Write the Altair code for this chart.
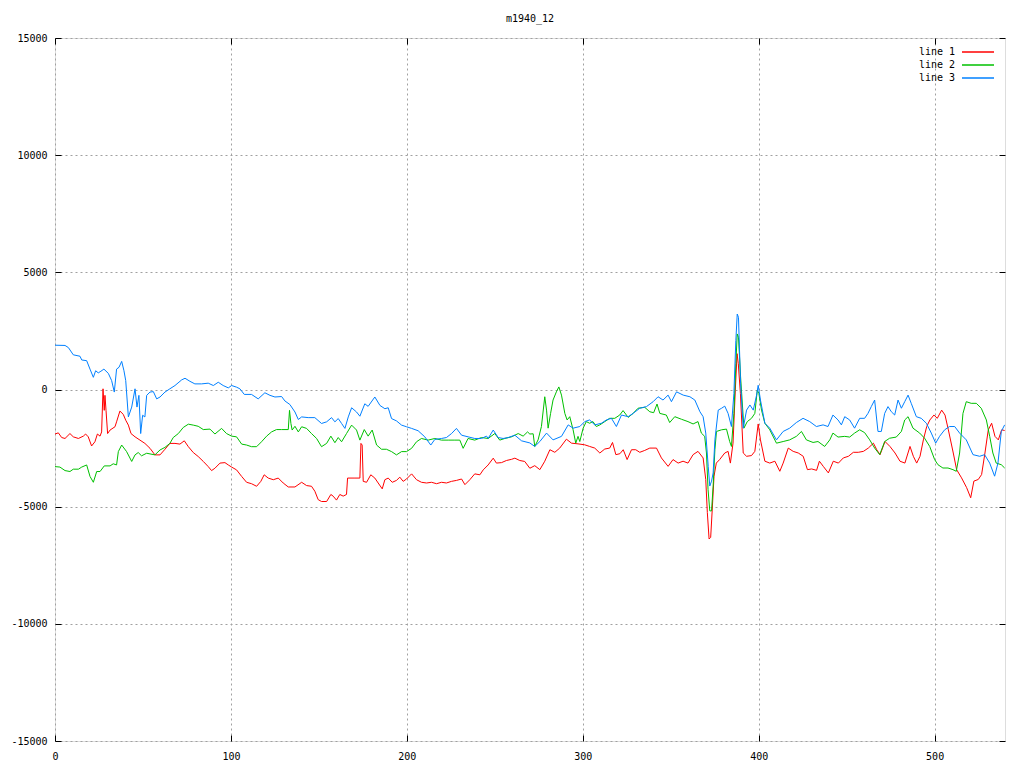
import altair as alt
import pandas as pd

TITLE = "m1940_12"
SERIES = ["line 1", "line 2", "line 3"]
COLORS = ["#ff0000", "#00c000", "#0080ff"]
X_TICKS = [0, 100, 200, 300, 400, 500]
Y_TICKS = [-15000, -10000, -5000, 0, 5000, 10000, 15000]

line1 = [(0,-1900),(1.9,-1850),(3.8,-2050),(5.7,-2090),(8.5,-1880),(10.4,-2020),(13.3,-2090),(16.1,-1990),(17.4,-1900),(18.9,-2020),
(20.8,-2410),(22.7,-2230),(24.1,-1900),(25.6,-1990),(26.5,-1810),(27.3,30),(28,-890),(28.4,-250),(29,-890),(29.9,-1880),
(31.3,-1730),(34.1,-1590),(35,-1380),(36.9,-920),(38.8,-1060),(40.2,-1310),(41.7,-1520),(43.2,-1880),(45.5,-2020),(48.3,-2160),
(51.1,-2300),(54,-2510),(56.8,-2790),(59.7,-2790),(62.5,-2550),(65.3,-2300),(68.2,-2300),(71,-2330),(73.5,-2190),(75.8,-2440),
(78.6,-2690),(81.4,-2860),(84.3,-3070),(87.1,-3290),(89,-3460),(90.9,-3360),(93.8,-3140),(96.6,-3120),(98.5,-3220),(100.4,-3310),
(103.2,-3430),(106.1,-3710),(108.9,-3960),(111.7,-4020),(114.6,-4130),(117,-3920),(118.9,-3640),(121.2,-3780),(124.1,-3850),(126.9,-3780),
(129.7,-3990),(132.6,-4160),(136.4,-4160),(140.2,-3960),(143,-4100),(145.8,-4130),(147.7,-4340),(149.6,-4700),(151.5,-4780),(154.4,-4780),
(156.8,-4480),(158.1,-4550),(160,-4720),(161.9,-4480),(163.8,-4550),(165.7,-4480),(166.3,-3780),(170.5,-3780),(173.3,-3780),(173.9,-2300),
(174.6,-2370),(175.2,-3920),(177.1,-3960),(179.5,-3640),(181.8,-3780),(183.7,-3990),(186,-4240),(187.5,-3850),(189.4,-3780),(191.7,-3960),
(194.1,-3880),(196,-3740),(197.9,-3920),(199.8,-3820),(202.7,-3600),(205.5,-3850),(208.3,-3960),(211.2,-3990),(214,-3960),(216.9,-4020),
(219.7,-3960),(222.5,-3990),(225.4,-3920),(228.2,-3880),(231.1,-3820),(233,-4060),(235.8,-3850),(238.6,-3600),(241.5,-3640),(243.4,-3430),
(246.2,-3220),(249.1,-2930),(250.9,-3140),(253.8,-3120),(256.6,-3030),(259.5,-2980),(261.4,-2930),(264.2,-3030),(267,-3070),(269.9,-3360),
(272.7,-3250),(275.6,-3420),(278.4,-3060),(281.3,-2570),(284.1,-2680),(286.9,-2500),(290.7,-2120),(293.6,-2290),(297.3,-2320),(301.1,-2360),
(303.9,-2430),(306.8,-2500),(309.7,-2710),(312.5,-2540),(315.3,-2500),(316.9,-2260),(318.8,-2780),(321.1,-2740),(323,-2570),(325.2,-2990),
(327.7,-2570),(330.1,-2570),(332.4,-2680),(335.2,-2600),(338.1,-2500),(341.9,-2500),(344.7,-2920),(348.5,-3280),(351.3,-2990),(354.2,-3140),
(357,-3060),(359.8,-3140),(362.7,-2780),(365.5,-2640),(368.4,-2920),(369.9,-3840),(370.8,-5250),(371.8,-6380),(372.7,-6310),(373.7,-4970),
(374.6,-3700),(375.9,-3140),(377.8,-2990),(380.7,-2710),(382.6,-2640),(383.9,-3140),(385.4,-2290),(386.7,-30),(387.7,1530),(388.4,1100),
(389.6,-170),(391.2,-2710),(393.1,-2850),(395.9,-2820),(397.8,-2640),(399.7,-1470),(401,-2150),(403.5,-3060),(406.3,-3140),(409.2,-3060),
(412,-3490),(413.9,-3140),(416.8,-2500),(419.6,-2640),(422.5,-2710),(425.3,-2850),(427.7,-3420),(430.1,-3390),(432.9,-3450),(434.5,-3060),
(436.7,-3280),(439.6,-3560),(442.4,-3060),(445.3,-3140),(448.1,-2920),(451,-2850),(453.8,-2680),(456.6,-2680),(459.5,-2640),(462.3,-2500),
(465.2,-2290),(467.1,-2570),(469,-2780),(471.8,-2220),(474.6,-2430),(477.5,-2710),(480.3,-3060),(483.1,-3140),(486,-2430),(487.9,-2850),
(489.8,-3140),(491.7,-2850),(493.6,-2150),(495.5,-1580),(497.3,-1300),(499.6,-1090),(501.5,-1230),(504,-880),(505.9,-1090),(507.8,-1720),
(510.6,-2710),(512.5,-3420),(515.3,-3770),(518.2,-4190),(520.5,-4620),(522.3,-3910),(524.8,-3840),(526.7,-3630),(528.6,-2710),(530.5,-1720),
(532.4,-1440),(534.3,-2000),(536.2,-2150),(538.1,-1720),(539.8,-1750)]

line2 = [(0,-3290),(2.8,-3310),(5.7,-3460),(8.5,-3500),(10.4,-3400),(13.3,-3400),(15.2,-3310),(18,-3220),(19.9,-3710),(21.8,-3960),
(23.7,-3500),(25.6,-3500),(28,-3260),(31.3,-3260),(33.1,-3170),(35,-3220),(36,-2650),(37.9,-2370),(40.7,-2650),(43.6,-3070),
(45.5,-2790),(47.3,-2690),(49.2,-2830),(52.1,-2720),(56.8,-2790),(59.7,-2580),(62.5,-2470),(65.3,-2300),(67.2,-2050),(70.1,-1880),
(72.9,-1620),(75.8,-1480),(78.6,-1520),(81.4,-1570),(84.3,-1710),(88.1,-1690),(90.9,-1900),(94.7,-1660),(97.5,-1880),(100.4,-1990),
(103.2,-2020),(106.1,-2330),(108.9,-2370),(111.7,-2440),(114.6,-2440),(117.4,-2230),(120.3,-1990),(123.1,-1810),(125.9,-1710),(128.8,-1710),
(132.6,-1710),(133.3,-890),(134.1,-1450),(134.8,-1730),(136.4,-1570),(138.3,-1810),(140.2,-1590),(143,-1660),(145.8,-1880),(148.7,-2090),
(151.5,-2440),(154.4,-2300),(156.8,-1990),(159.1,-2270),(161,-2050),(162.9,-2230),(165.7,-1880),(168.6,-1520),(171.4,-1730),(173.3,-2160),
(175.8,-1710),(178,-1990),(180.3,-1730),(182.8,-2370),(185.6,-2550),(188.4,-2550),(191.3,-2650),(194.1,-2790),(197,-2650),(199.8,-2650),
(202.7,-2510),(205.5,-2230),(208.3,-2090),(212.1,-2160),(215.9,-2090),(219.7,-2160),(223.5,-2160),(227.3,-2160),(230.1,-2160),(232,-2510),
(234.8,-2090),(238.6,-2160),(242.4,-2050),(246.2,-2090),(250,-1880),(252.8,-2160),(255.7,-2090),(259.5,-2020),(263.3,-1880),(266.1,-1990),
(268.6,-1810),(269.9,-1900),(271.8,-1890),(272.7,-2430),(274.6,-2150),(276.5,-1580),(278.4,-310),(279.4,-880),(280.3,-1650),(281.7,-1020),
(283.1,-450),(285,-100),(286.4,110),(287.9,-240),(289.8,-1020),(291.1,-1300),(292.6,-1160),(294.5,-1720),(296,-2290),(297.3,-2000),
(298.3,-2220),(300.2,-1650),(302,-1370),(303.9,-1440),(305.8,-1370),(307.7,-1580),(309.7,-1510),(312.5,-1370),(315.3,-1230),(318.2,-1230),
(321,-1090),(322.9,-900),(325.8,-1190),(328.6,-1020),(331.4,-800),(335.2,-760),(338.1,-950),(340.3,-990),(342.2,-620),(343.8,-1020),
(347.5,-1090),(349.4,-1410),(352.3,-1160),(356.1,-1270),(359.8,-1370),(362.7,-1470),(365.5,-1370),(367.4,-1860),(369.3,-2000),(370.3,-2710),
(371.2,-4260),(372.2,-5180),(373.2,-5180),(374.1,-4120),(375.1,-2570),(376,-1790),(378.9,-1720),(381.7,-1690),(383.5,-2220),(384.5,-2430),
(385.9,-1020),(387,1100),(387.8,2370),(388.5,2230),(389.7,540),(391.6,-1650),(393.5,-1370),(395.9,-1230),(397.8,-1020),(399.2,-30),
(400.1,-170),(401.6,-880),(403.5,-1440),(406.3,-1720),(410.1,-2290),(413.9,-2220),(417.6,-2150),(421.4,-2000),(424.3,-1790),(427.1,-2150),
(430.9,-2260),(433.7,-2220),(437.5,-2430),(440.4,-2150),(442.2,-1860),(445.1,-2030),(448.9,-2000),(451.7,-2030),(454.5,-1860),(457.4,-1720),
(460.2,-1840),(463.1,-2150),(465.9,-2500),(468.8,-2780),(471.6,-2220),(474.4,-2080),(478.2,-2030),(481.1,-1790),(483,-1300),(484.9,-1160),
(487.7,-1650),(491.5,-1860),(494.3,-2080),(497.2,-2430),(500,-2990),(501.9,-3210),(504.7,-3350),(507.6,-3350),(510.4,-3420),(512.3,-3490),
(514.2,-2710),(516.1,-1020),(518,-520),(520.8,-590),(523.7,-590),(526.5,-800),(529.4,-1300),(531.3,-2000),(533.1,-2710),(535,-3140),
(537.9,-3210),(539.8,-3350)]

line3 = [(0,1890),(5.7,1880),(7.6,1790),(10.4,1480),(14.2,1420),(15.2,1260),(18,1230),(19.9,870),(21.8,520),(23.1,800),
(24.6,710),(26.1,780),(27.8,870),(30.3,690),(32.2,380),(33.7,-110),(35,870),(36.4,950),(37.9,1200),(39.2,800),
(40.2,380),(41.7,-1170),(43.6,-750),(45.5,30),(46.6,-750),(47.7,-250),(48.7,-1880),(49.8,-1100),(51.1,-1170),(52.1,-250),
(54,-110),(55.9,-90),(57.8,-400),(59.7,-320),(62.5,-110),(65.3,30),(68.2,170),(72,410),(73.9,480),(76.7,350),
(79.5,240),(83.3,240),(87.1,270),(90,170),(92.8,310),(95.6,170),(98.5,70),(100.4,170),(103.2,100),(105.1,30),
(107.6,-210),(111.7,-210),(115.5,-400),(119.3,-140),(122.2,-250),(125,-320),(128.8,-300),(130.7,-490),(133.5,-640),(136.4,-960),
(138.3,-1280),(140.2,-1170),(143.9,-1200),(147.7,-1200),(151.5,-1450),(154.4,-1380),(157.2,-1200),(159.1,-1380),(161,-1240),(162.9,-1450),
(164.8,-1660),(166.7,-1170),(168.6,-780),(171.4,-960),(173.3,-1140),(176.1,-610),(178,-720),(181.8,-320),(184.7,-680),(187.5,-820),
(189.4,-780),(191.3,-1240),(194.1,-1340),(197,-1520),(199.8,-1590),(202.7,-1660),(206.4,-1760),(210.2,-2020),(213.6,-2370),(215.9,-2130),
(219.7,-2090),(222.5,-2050),(225.4,-1880),(228.2,-1660),(231.1,-1950),(234.8,-2020),(238.6,-2090),(242.4,-2090),(245.3,-1990),(246.2,-2090),
(249.1,-1730),(251.9,-2050),(254.7,-2090),(257.6,-2050),(261.4,-1950),(265.2,-2190),(269.9,-2280),(272.7,-2430),(275.6,-2220),(279.4,-1860),
(283.1,-2150),(287.9,-2000),(291.7,-1510),(294.5,-1650),(298.3,-1580),(301.1,-1370),(303.9,-1300),(306.8,-1510),(310.6,-1440),(313.4,-1300),
(316.3,-1230),(319.1,-1580),(322,-1090),(325.8,-1160),(328.6,-1020),(332.4,-800),(336.2,-730),(340,-520),(342.8,-310),(345.6,-450),
(348.5,-240),(350.4,-520),(353.3,-100),(357.1,-240),(360.9,-310),(363.7,-450),(366.6,-950),(368.4,-1160),(369.9,-1860),(371.3,-3280),
(372.2,-4120),(373.2,-3910),(374.1,-3560),(375.1,-2150),(377,-880),(378.9,-800),(380.7,-710),(382.6,-1020),(384.5,-1580),(385.9,-170),
(387,2090),(387.8,3220),(388.5,3080),(389.7,250),(391.2,-1650),(393.1,-880),(395,-660),(396.9,-880),(398.8,-240),(399.7,180),
(401,-450),(403.5,-1440),(406.3,-1650),(410.1,-2150),(413.9,-1790),(417.6,-1650),(421.4,-1410),(425.2,-1230),(429,-1370),(432.8,-1580),
(436.6,-1510),(439.4,-1580),(442.2,-1090),(445.1,-1300),(447,-1510),(448.9,-1160),(451.7,-1300),(454.5,-1650),(457.4,-1230),(460.2,-1230),
(462.1,-1020),(464,-730),(465.9,-450),(467.8,-1790),(469.7,-1790),(471.6,-1020),(473.5,-730),(475.4,-950),(477.3,-1090),(479.2,-450),
(481.1,-800),(483,-520),(484.9,-240),(486.7,-590),(489.6,-1160),(492.4,-1230),(495.3,-1440),(498.1,-1860),(500.6,-2290),(502.8,-2000),
(505.7,-1720),(508.5,-1580),(511.4,-1580),(514.2,-1860),(518,-2150),(521.8,-2780),(525.6,-2850),(528.4,-2780),(531.3,-3140),(534.1,-3700),
(536,-3140),(537.9,-1790),(539.8,-1510)]

rows = []
for name, pts in zip(SERIES, [line1, line2, line3]):
    for i, (x, y) in enumerate(pts):
        rows.append({"series": name, "x": x, "y": y, "i": i})
df = pd.DataFrame(rows)

FONT = "DejaVu Sans Mono"
W, H = 950, 703
xs = alt.Scale(domain=[0, 540], nice=False, zero=False)
ys = alt.Scale(domain=[-15000, 15000], nice=False, zero=False)

base = alt.Chart(df)

main = base.mark_line(strokeWidth=1).encode(
    x=alt.X("x:Q", scale=xs, axis=alt.Axis(
        orient="bottom", values=X_TICKS, title=None, domain=False, ticks=False, tickSize=0,
        grid=True, gridColor="#a0a0a0", gridDash=[2, 3], gridWidth=1,
        labelFlush=False, labelOverlap=False, labelPadding=10, labelFont=FONT,
        labelFontSize=10, labelColor="black")),
    y=alt.Y("y:Q", scale=ys, axis=alt.Axis(
        orient="left", values=Y_TICKS, title=None, domain=False, ticks=False, tickSize=0,
        grid=True, gridColor="#a0a0a0", gridDash=[2, 3], gridWidth=1,
        labelOverlap=False, labelPadding=8, labelFont=FONT, labelFontSize=10,
        labelColor="black", labelExpr="'' + datum.value")),
    color=alt.Color("series:N", scale=alt.Scale(domain=SERIES, range=COLORS),
                    legend=alt.Legend(orient="none", legendX=918, legendY=9, title=None,
                                      symbolType="M-4,0H4", symbolSize=64, symbolStrokeWidth=1.5,
                                      labelAlign="right", labelOffset=alt.ExprRef("-28"),
                                      labelFont=FONT, padding=0,
                                      labelFontSize=10, labelColor="black", rowPadding=3)),
    order=alt.Order("i:Q"),
)

tick_axis = dict(title=None, domain=False, labels=False, grid=False, ticks=True,
                 tickSize=6, tickColor="black", tickWidth=1)

mirror1 = base.mark_line(opacity=0).encode(
    x=alt.X("x:Q", scale=xs, axis=alt.Axis(orient="top", offset=-H, values=X_TICKS, **tick_axis)),
    y=alt.Y("y:Q", scale=ys, axis=alt.Axis(orient="right", offset=-W, values=Y_TICKS, **tick_axis)),
    detail="series:N",
)
mirror2 = base.mark_line(opacity=0).encode(
    x=alt.X("x:Q", scale=xs, axis=alt.Axis(orient="bottom", offset=-H, values=X_TICKS, **tick_axis)),
    y=alt.Y("y:Q", scale=ys, axis=alt.Axis(orient="left", offset=-W, values=Y_TICKS, **tick_axis)),
    detail="series:N",
)

chart = alt.layer(main, mirror1, mirror2).resolve_axis(
    x="independent", y="independent"
).properties(
    width=W, height=H,
    title=alt.TitleParams(TITLE, font=FONT, fontSize=10, fontWeight="normal", color="black",
                          anchor="middle", frame="group", offset=9),
    autosize=alt.AutoSizeParams(type="none"),
    padding={"left": 47, "top": 30, "right": 11, "bottom": 19},
).configure_view(stroke="black", strokeWidth=1).configure(background="white")

chart.save("out.html", embed_options={"renderer": "svg", "actions": False})
